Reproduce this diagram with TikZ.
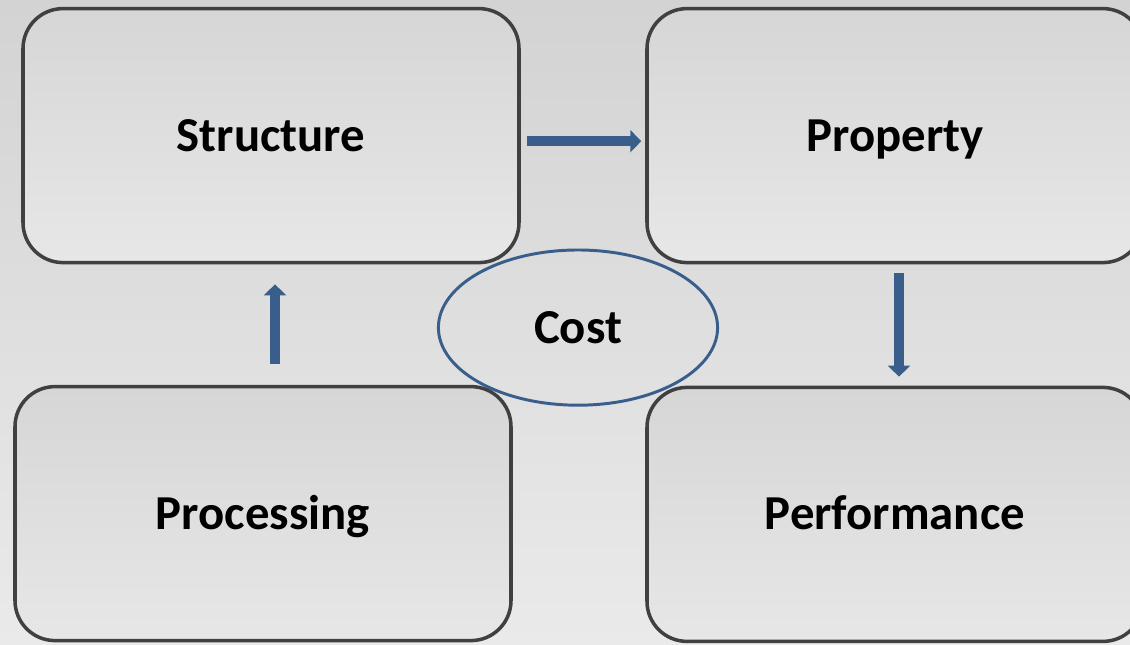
\documentclass[tikz,border=0pt]{standalone}
\usepackage{fontspec}
\setmainfont{Carlito}
\usetikzlibrary{shapes}
\usetikzlibrary{arrows.meta}
\definecolor{boxline}{RGB}{64,64,64}
\definecolor{edgeblue}{RGB}{58,94,140}
\definecolor{bgtop}{RGB}{211,211,211}
\definecolor{bgbot}{RGB}{234,234,234}
\definecolor{boxtop}{RGB}{214,214,214}
\definecolor{boxbot}{RGB}{231,231,231}
\tikzset{
    mybox/.style = {rectangle, rounded corners=1cm, line width=2.5pt, draw=boxline, minimum width=12.4cm, minimum height=6.35cm, top color=boxtop, bottom color=boxbot, text height=0.78cm, text depth=0pt, font=\bfseries\fontsize{34.7}{40}\selectfont},
    myoval/.style = {ellipse, line width=2.1pt, draw=edgeblue, minimum width=6.98cm, minimum height=3.88cm, inner sep=0pt, font=\bfseries\fontsize{34.7}{40}\selectfont},
    edgeb/.style = {-{Triangle[length=7.8pt,width=15.6pt]}, line width=7pt, edgeblue}
}

\begin{document}
\begin{tikzpicture}
\clip (0,0) rectangle (28.25,16.1);
\shade[top color=bgtop, bottom color=bgbot] (0,0) rectangle (28.25,16.1);
\node[mybox] at (6.775, 12.71) (struc) {Structure};
\node[mybox] at (22.375, 12.71) (prop) {Property};
\node[mybox] at (6.575, 3.26) (proc) {Processing};
\node[mybox] at (22.375, 3.24) (perf) {Performance};
\node[myoval] at (14.45, 7.91) (cost) {Cost};
%
\draw[edgeb, shorten <=0.15cm, shorten >=0.1cm] ([yshift=-0.14cm]struc.east) -- ([yshift=-0.14cm]struc.east -| prop.west);
\draw[edgeb, shorten <=0.225cm, shorten >=0.225cm] ([xshift=0.1cm]prop.south) -- ([xshift=0.1cm]prop.south |- perf.north);
\draw[edgeb, shorten <=0.525cm, shorten >=0.5cm] ([xshift=0.3cm]proc.north) -- ([xshift=0.3cm]proc.north |- struc.south);

\end{tikzpicture}
\end{document}
